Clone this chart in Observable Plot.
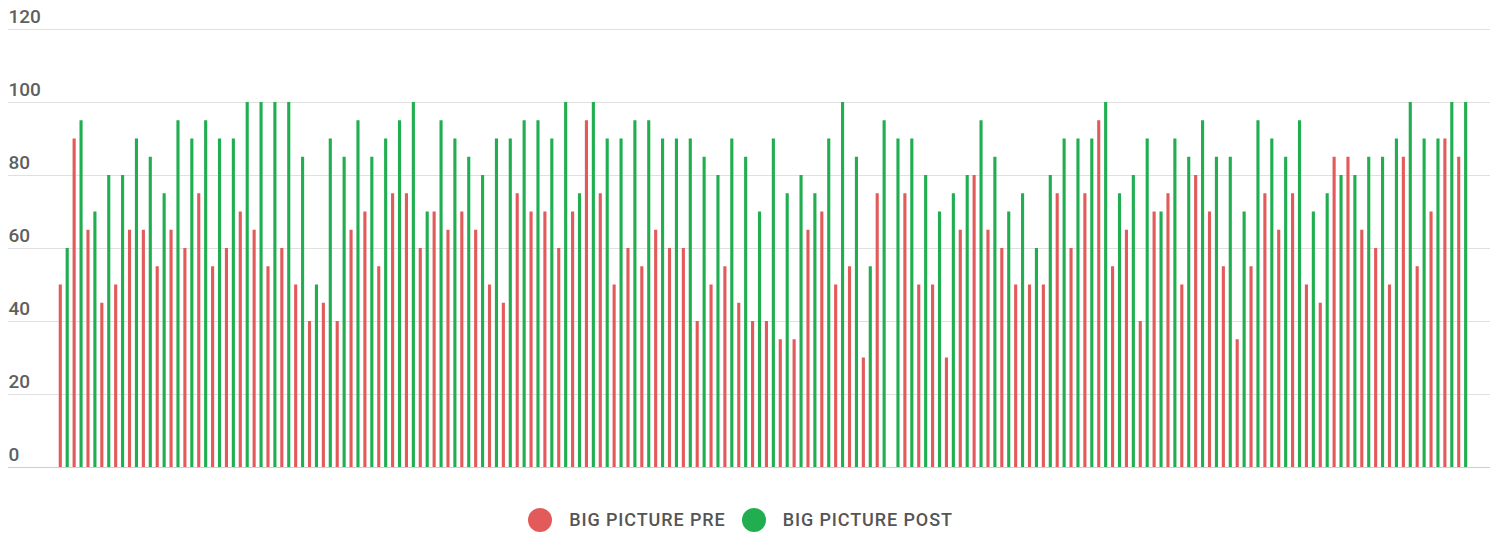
<!DOCTYPE html>
<html><head><meta charset="utf-8">
<script src="https://cdn.jsdelivr.net/npm/d3@7"></script>
<script src="https://cdn.jsdelivr.net/npm/@observablehq/plot@0.6"></script>
<style>
body{margin:0;background:#fff;font-family:Roboto,"Noto Sans",sans-serif;overflow:hidden;}
#chart svg{display:block;}
#legend{display:flex;justify-content:center;align-items:center;height:80px;padding-right:13px;box-sizing:border-box;}
.item{display:flex;align-items:center;}
.item + .item{margin-left:16px;}
.dot{width:24px;height:24px;border-radius:50%;margin-right:17px;}
.lab{font-size:18px;font-weight:500;color:#555;letter-spacing:0.9px;line-height:24px;}
</style></head><body>
<div id="chart"></div>
<div id="legend"></div>
<script>
const series = ["BIG PICTURE PRE", "BIG PICTURE POST"];
const colors = ["#e35a5a", "#20ae50"];
const yTicks = [0, 20, 40, 60, 80, 100, 120];
const pre = [50,90,65,45,50,65,65,55,65,60,75,55,60,70,65,55,60,50,40,45,40,65,70,55,75,75,60,70,65,70,65,50,45,75,70,70,60,70,95,75,50,60,55,65,60,60,40,50,55,45,40,40,35,35,65,70,50,55,30,75,0,75,50,50,30,65,80,65,60,50,50,50,75,60,75,95,55,65,40,70,75,50,80,70,55,35,55,75,65,75,50,45,85,85,65,60,50,85,55,70,90,85];
const post = [60,95,70,80,80,90,85,75,95,90,95,90,90,100,100,100,100,85,50,90,85,95,85,90,95,100,70,95,90,85,80,90,90,95,95,90,100,75,100,90,90,95,95,90,90,90,85,80,90,85,70,90,75,80,75,90,100,85,55,95,90,90,80,70,75,80,95,85,70,75,60,80,90,90,90,100,75,80,90,70,90,85,95,85,85,70,95,90,85,95,70,75,80,80,85,85,90,100,90,90,100,100];

const data = [];
pre.forEach((v, i) => {
  data.push({slot: i * 2, s: series[0], v});
  data.push({slot: i * 2 + 1, s: series[1], v: post[i]});
});

const chart = Plot.plot({
  width: 1494, height: 480,
  marginLeft: 8, marginRight: 4, marginTop: 29, marginBottom: 13,
  style: {fontFamily: "Roboto, sans-serif", background: "#fff"},
  x: {type: "band", domain: d3.range(pre.length * 2), paddingInner: 0.55, paddingOuter: 5.31, align: 0.69, axis: null},
  y: {domain: [0, 120], axis: null},
  color: {domain: series, range: colors},
  marks: [
    Plot.ruleY(yTicks.filter(d => d !== 0), {stroke: "#e0e0e0", strokeWidth: 1}),
    Plot.ruleY([0], {stroke: "#cfcfcf", strokeWidth: 1}),
    Plot.text(yTicks, {y: d => d, text: d => String(d), frameAnchor: "left", textAnchor: "start", dy: -13, fontSize: 19, fill: "#5f5f5f", fontWeight: 500}),
    Plot.barY(data, {x: "slot", y: "v", fill: "s"})
  ]
});
document.getElementById("chart").appendChild(chart);

const legend = document.getElementById("legend");
series.forEach((s, i) => {
  const item = document.createElement("div");
  item.className = "item";
  const dot = document.createElement("div");
  dot.className = "dot";
  dot.style.background = colors[i];
  const lab = document.createElement("span");
  lab.className = "lab";
  lab.textContent = s;
  item.appendChild(dot);
  item.appendChild(lab);
  legend.appendChild(item);
});
</script>
</body></html>
